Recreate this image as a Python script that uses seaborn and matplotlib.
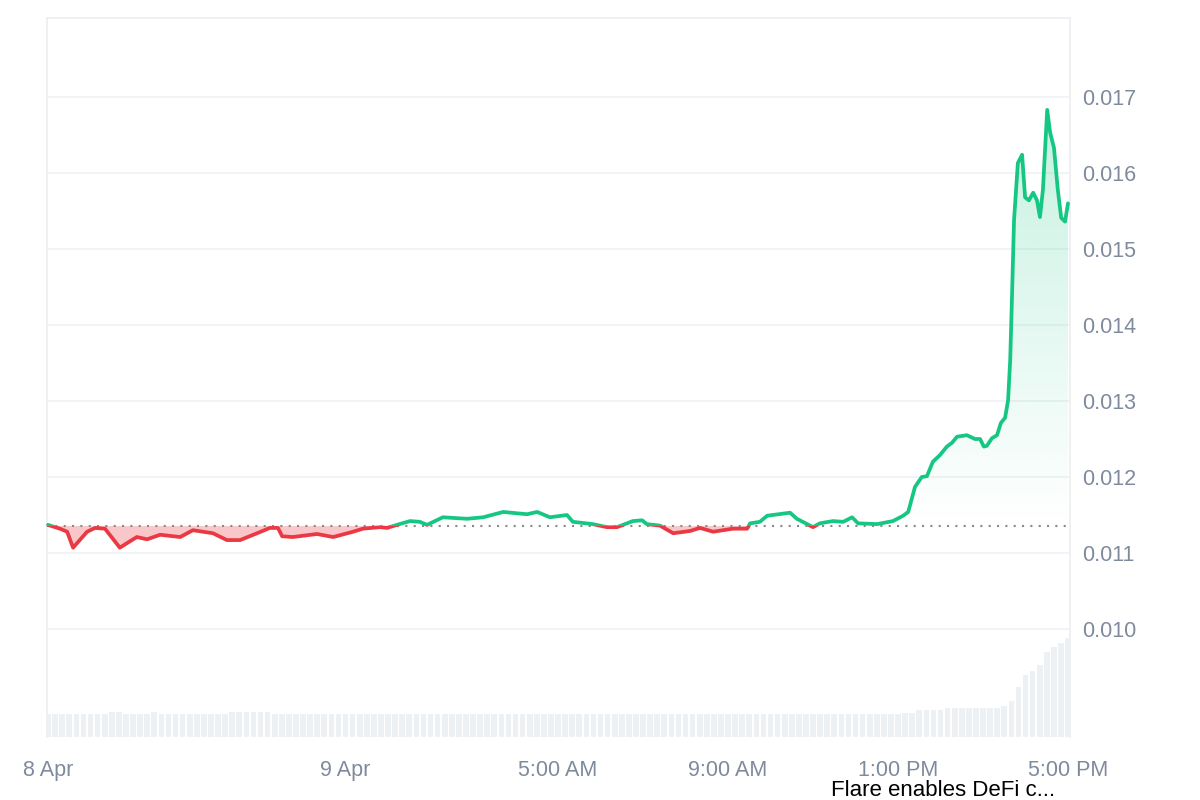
import numpy as np
import matplotlib
matplotlib.use("Agg")
import matplotlib.pyplot as plt
from matplotlib.patches import Polygon, Rectangle
import seaborn as sns

# price series: hours since 8 Apr 5:00 PM, price in USD
hours = [0.00, 0.28, 0.45, 0.59, 0.92, 1.11, 1.34, 1.69, 1.86, 2.09, 2.33, 2.64, 3.11, 3.41,
         3.88, 4.21, 4.52, 4.92, 5.22, 5.41, 5.51, 5.76, 6.33, 6.71, 7.18, 7.41, 7.81, 7.98,
         8.21, 8.52, 8.75, 8.92, 9.29, 9.86, 10.24, 10.71, 11.27, 11.51, 11.81, 12.21, 12.35,
         12.82, 13.15, 13.39, 13.76, 13.98, 14.09, 14.40, 14.71, 15.11, 15.34, 15.65, 16.12,
         16.45, 16.52, 16.75, 16.92, 17.46, 17.62, 17.76, 18.00, 18.16, 18.47, 18.71, 18.92,
         19.06, 19.51, 19.88, 20.12, 20.24, 20.40, 20.56, 20.68, 20.82, 20.99, 21.15, 21.27,
         21.39, 21.62, 21.81, 21.93, 22.02, 22.09, 22.21, 22.33, 22.42, 22.52, 22.59, 22.64,
         22.68, 22.73, 22.82, 22.92, 22.99, 23.08, 23.18, 23.27, 23.34, 23.41, 23.51, 23.58,
         23.67, 23.76, 23.84, 23.93, 24.00]
price = [0.01137, 0.01132, 0.01128, 0.01107, 0.01128, 0.01133, 0.01132, 0.01107, 0.01113,
         0.01121, 0.01118, 0.01124, 0.01121, 0.01130, 0.01126, 0.01117, 0.01117, 0.01126,
         0.01133, 0.01133, 0.01122, 0.01121, 0.01125, 0.01121, 0.01128, 0.01132, 0.01134,
         0.01133, 0.01137, 0.01142, 0.01141, 0.01137, 0.01147, 0.01145, 0.01147, 0.01154,
         0.01151, 0.01154, 0.01147, 0.01150, 0.01141, 0.01138, 0.01134, 0.01134, 0.01142,
         0.01143, 0.01138, 0.01136, 0.01126, 0.01129, 0.01133, 0.01128, 0.01132, 0.01132,
         0.01139, 0.01141, 0.01149, 0.01153, 0.01145, 0.01141, 0.01134, 0.01139, 0.01142,
         0.01141, 0.01147, 0.01139, 0.01138, 0.01142, 0.01149, 0.01154, 0.01187, 0.01200,
         0.01201, 0.01220, 0.01229, 0.01240, 0.01245, 0.01253, 0.01255, 0.01250, 0.01250,
         0.01240, 0.01241, 0.01251, 0.01255, 0.01271, 0.01278, 0.01301, 0.01354, 0.01433,
         0.01538, 0.01613, 0.01624, 0.01568, 0.01564, 0.01574, 0.01564, 0.01542, 0.01578,
         0.01683, 0.01653, 0.01633, 0.01578, 0.01541, 0.01536, 0.01560]
base_price = 0.011355

# volume, one bar per 10 minutes (relative units)
volume = [2.3, 2.3, 2.3, 2.3, 2.3, 2.3, 2.3, 2.3, 2.3, 2.5,
          2.5, 2.3, 2.3, 2.3, 2.3, 2.5, 2.3, 2.3, 2.3, 2.3,
          2.3, 2.3, 2.3, 2.3, 2.3, 2.3, 2.5, 2.5, 2.5, 2.5,
          2.5, 2.5, 2.3, 2.3, 2.3, 2.3, 2.3, 2.3, 2.3, 2.3,
          2.3, 2.3, 2.3, 2.3, 2.3, 2.3, 2.3, 2.3, 2.3, 2.3,
          2.3, 2.3, 2.3, 2.3, 2.3, 2.3, 2.3, 2.3, 2.3, 2.3,
          2.3, 2.3, 2.3, 2.3, 2.3, 2.3, 2.3, 2.3, 2.3, 2.3,
          2.3, 2.3, 2.3, 2.3, 2.3, 2.3, 2.3, 2.3, 2.3, 2.3,
          2.3, 2.3, 2.3, 2.3, 2.3, 2.3, 2.3, 2.3, 2.3, 2.3,
          2.3, 2.3, 2.3, 2.3, 2.3, 2.3, 2.3, 2.3, 2.3, 2.3,
          2.3, 2.3, 2.3, 2.3, 2.3, 2.3, 2.3, 2.3, 2.3, 2.3,
          2.3, 2.3, 2.3, 2.3, 2.3, 2.3, 2.3, 2.3, 2.3, 2.3,
          2.3, 2.4, 2.4, 2.7, 2.7, 2.7, 2.7, 2.9, 2.9, 2.9,
          2.9, 2.9, 2.9, 2.9, 2.9, 3.1, 3.6, 5.0, 6.2, 6.6,
          7.2, 8.5, 9.0, 9.4, 9.9]
vol_hours = np.arange(len(volume)) / 6

tick_hours = [0, 7, 12, 16, 20, 24]
tick_labels = ["8 Apr", "9 Apr", "5:00 AM", "9:00 AM", "1:00 PM", "5:00 PM"]
price_ticks = [0.010, 0.011, 0.012, 0.013, 0.014, 0.015, 0.016, 0.017]

green = "#16c784"
red = "#ea3943"
label_col = "#808a9d"

sns.set_theme(style="white")
plt.rcParams["font.family"] = ["Liberation Sans", "DejaVu Sans"]

fig = plt.figure(figsize=(12, 8), dpi=100)
ax = fig.add_axes([0.03917, 0.07875, 0.8525, 0.89875])
axv = ax.twinx()
ax.set_zorder(axv.get_zorder() + 1)
ax.patch.set_visible(False)

# volume bars underneath
sns.barplot(x=vol_hours, y=volume, native_scale=True, ax=axv, color="#eef1f4",
            saturation=1, width=0.8, linewidth=0)
axv.set_ylim(0, 71.9)
axv.set_yticks([])
axv.set_ylabel("")
for s in axv.spines.values():
    s.set_visible(False)

h = np.array(hours)
p = np.array(price)
xlim = (-0.0235, 24.047)
ylim = (0.008579, 0.018039)

# red area below the opening price
ax.fill_between(h, p, base_price, where=p < base_price, interpolate=True,
                color=red, alpha=0.28, lw=0)

# green gradient above the opening price
verts = list(zip(h, np.maximum(p, base_price))) + [(h[-1], base_price), (h[0], base_price)]
clip = Polygon(verts, closed=True, transform=ax.transData, facecolor="none", edgecolor="none")
ax.add_patch(clip)
grad = np.zeros((256, 1, 4))
grad[:, 0, 0] = 22 / 255
grad[:, 0, 1] = 199 / 255
grad[:, 0, 2] = 132 / 255
grad[:, 0, 3] = np.linspace(0.24, 0.0, 256)
img = ax.imshow(grad, extent=[h[0], h[-1], base_price, 0.0168], aspect="auto",
                origin="upper", zorder=1)
img.set_clip_path(clip)

# price line, green above / red below the opening price
sns.lineplot(x=h, y=p, ax=ax, color=green, lw=2.7, zorder=4, sort=False,
             solid_joinstyle="round", solid_capstyle="round")
sns.lineplot(x=h, y=p, ax=ax, color=red, lw=2.7, zorder=4, sort=False,
             solid_joinstyle="round", solid_capstyle="round")
up_line, down_line = ax.lines[-2], ax.lines[-1]
up_rect = Rectangle((-1, base_price), 30, 1, transform=ax.transData)
down_rect = Rectangle((-1, 0), 30, base_price, transform=ax.transData)
up_line.set_clip_path(up_rect)
down_line.set_clip_path(down_rect)

ax.axhline(base_price, color="#8a8a8a", lw=1.5, ls=(0, (1, 3)), zorder=3)

ax.set_xlim(*xlim)
ax.set_ylim(*ylim)
ax.set_xticks(tick_hours)
ax.set_xticklabels(tick_labels)
ax.set_yticks(price_ticks)
ax.set_yticklabels([f"{v:.3f}" for v in price_ticks])
ax.yaxis.tick_right()
ax.tick_params(axis="y", length=0, pad=9, labelsize=15.5, labelcolor=label_col)
ax.tick_params(axis="x", length=0, pad=16.5, labelsize=15.5, labelcolor=label_col)
ax.grid(axis="y", color="#eff2f5", lw=1.2)
ax.set_axisbelow(True)
ax.set_xlabel("")
ax.set_ylabel("")
for name, s in ax.spines.items():
    s.set_color("#eceef1")
    s.set_linewidth(1.2)
ax.spines["bottom"].set_visible(False)

fig.text(0.6925, 0.0125, "Flare enables DeFi c...", fontsize=16, color="black",
         ha="left", va="center")

fig.savefig("out.png", dpi=100)
